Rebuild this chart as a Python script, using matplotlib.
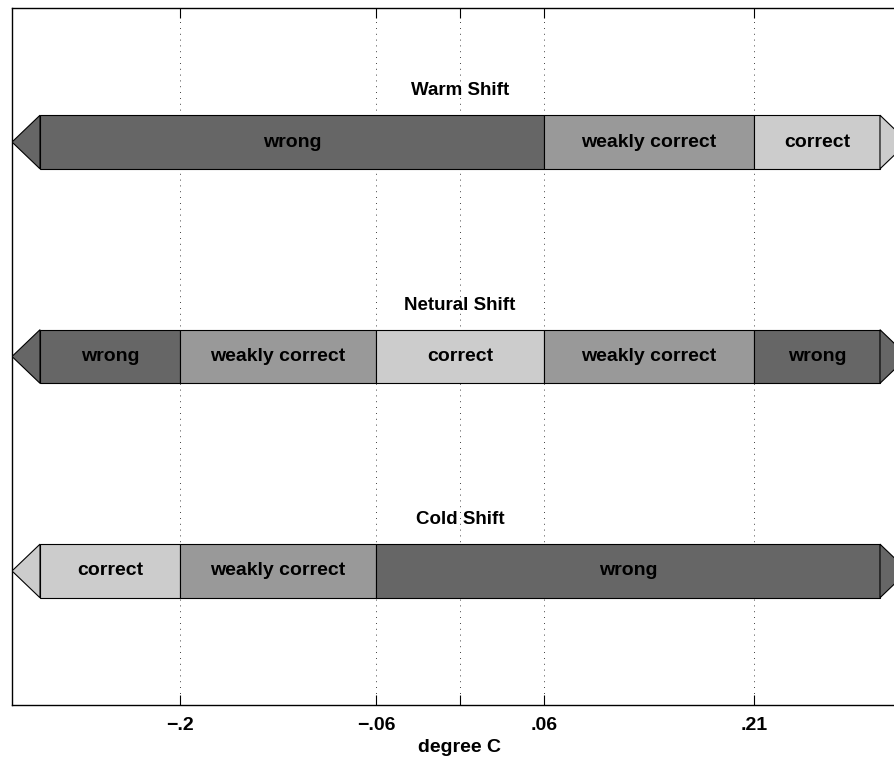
import matplotlib
matplotlib.use("Agg")
import matplotlib.pyplot as plt
from matplotlib.patches import Rectangle, Polygon

plt.rcParams['font.family'] = ['Liberation Sans', 'DejaVu Sans']

# Category boundaries on the temperature axis (degree C)
x_min, x_max = -0.3, 0.3
tip = 0.02
tick_vals = [-0.2, -0.06, 0.0, 0.06, 0.21]
tick_labels = ["\u2212.2", "\u2212.06", "", ".06", ".21"]

shift_names = ["Warm Shift", "Netural Shift", "Cold Shift"]
shift_rows = [3, 2, 1]

# Each shift: list of (start, end, category)
warm_segments = [(-0.3, 0.06, "wrong"), (0.06, 0.21, "weakly correct"), (0.21, 0.3, "correct")]
neutral_segments = [(-0.3, -0.2, "wrong"), (-0.2, -0.06, "weakly correct"),
                    (-0.06, 0.06, "correct"), (0.06, 0.21, "weakly correct"),
                    (0.21, 0.3, "wrong")]
cold_segments = [(-0.3, -0.2, "correct"), (-0.2, -0.06, "weakly correct"), (-0.06, 0.3, "wrong")]
all_segments = [warm_segments, neutral_segments, cold_segments]

colors = {"wrong": "#666666", "weakly correct": "#999999", "correct": "#cccccc"}

fig = plt.figure(figsize=(8.95, 7.6), dpi=100)
W, H = 895, 760
left_px, right_px, top_px, bottom_px = 12, 908, 8, 705
ax = fig.add_axes([left_px / W, 1 - bottom_px / H, (right_px - left_px) / W, (bottom_px - top_px) / H])
ax.set_xlim(-0.32, 0.32)
ax.set_ylim(0.375, 3.625)

bar_h = 0.25
for row, name, segs in zip(shift_rows, shift_names, all_segments):
    y0 = row - bar_h / 2
    for s, e, cat in segs:
        ax.add_patch(Rectangle((s, y0), e - s, bar_h, facecolor=colors[cat],
                               edgecolor="black", linewidth=0.8, zorder=3))
        ax.text((s + e) / 2, row, cat, ha="center", va="center", fontsize=14,
                fontweight="bold", zorder=4)
    left_cat = segs[0][2]
    right_cat = segs[-1][2]
    ax.add_patch(Polygon([(x_min, y0), (x_min - tip, row), (x_min, y0 + bar_h)],
                         closed=True, facecolor=colors[left_cat], edgecolor="black",
                         linewidth=0.8, zorder=3))
    ax.add_patch(Polygon([(x_max, y0), (x_max + tip, row), (x_max, y0 + bar_h)],
                         closed=True, facecolor=colors[right_cat], edgecolor="black",
                         linewidth=0.8, zorder=3))
    ax.text(0.0, row + 0.24, name, ha="center", va="center", fontsize=13.5,
            fontweight="bold", zorder=4)

ax.set_xticks(tick_vals)
ax.set_xticklabels(tick_labels, fontweight="bold", fontsize=14)
ax.set_yticks([])
ax.tick_params(axis="x", direction="in", length=7, width=0.8, top=True, pad=9)
for v in tick_vals:
    ax.axvline(v, color="black", linestyle=(0, (1, 6)), linewidth=0.6, zorder=1)
ax.set_xlabel("degree C", fontweight="bold", fontsize=14, labelpad=3)
for sp in ax.spines.values():
    sp.set_linewidth(1.0)

fig.savefig("out.png", dpi=100)
